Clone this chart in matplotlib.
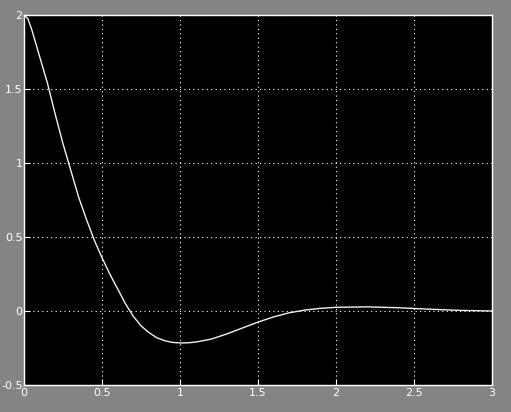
import matplotlib
matplotlib.use("Agg")
import matplotlib.pyplot as plt

# values
t = [0.0, 0.025, 0.05, 0.10, 0.15, 0.20, 0.25, 0.30, 0.35, 0.40,
     0.45, 0.50, 0.55, 0.60, 0.65, 0.70, 0.75, 0.80, 0.85, 0.90,
     0.95, 1.0, 1.05, 1.1, 1.2, 1.3, 1.4, 1.5, 1.6, 1.7,
     1.8, 1.9, 2.0, 2.2, 2.4, 2.6, 2.8, 3.0]
y = [2.0, 1.975, 1.90, 1.72, 1.54, 1.33, 1.13, 0.95, 0.77, 0.62,
     0.48, 0.36, 0.25, 0.15, 0.05, -0.035, -0.10, -0.145, -0.18, -0.20,
     -0.212, -0.216, -0.215, -0.21, -0.19, -0.155, -0.115, -0.075, -0.04, -0.012,
     0.006, 0.018, 0.025, 0.028, 0.022, 0.012, 0.004, 0.0]

xticks = [0, 0.5, 1, 1.5, 2, 2.5, 3]
xlabels = ["0", "0.5", "1", "1.5", "2", "2.5", "3"]
yticks = [-0.5, 0, 0.5, 1, 1.5, 2]
ylabels = ["-0.5", "0", "0.5", "1", "1.5", "2"]

fig = plt.figure(figsize=(5.11, 4.12), dpi=100, facecolor="#848484")
ax = fig.add_axes([24/511, 27/412, 468/511, 370/412])
ax.set_facecolor("black")

ax.plot(t, y, color="#f0f0f0", linewidth=1)

ax.set_xlim(0, 3)
ax.set_ylim(-0.5, 2)
ax.set_xticks(xticks)
ax.set_xticklabels(xlabels)
ax.set_yticks(yticks)
ax.set_yticklabels(ylabels)

for s in ax.spines.values():
    s.set_color("white")
    s.set_linewidth(1)
ax.tick_params(colors="white", direction="in", length=4, labelsize=8, pad=1)
ax.tick_params(axis="x", pad=2)
ax.grid(True, color="white", linestyle=(0, (1, 3)), linewidth=0.8)

fig.savefig("out.png", dpi=100, facecolor=fig.get_facecolor())
